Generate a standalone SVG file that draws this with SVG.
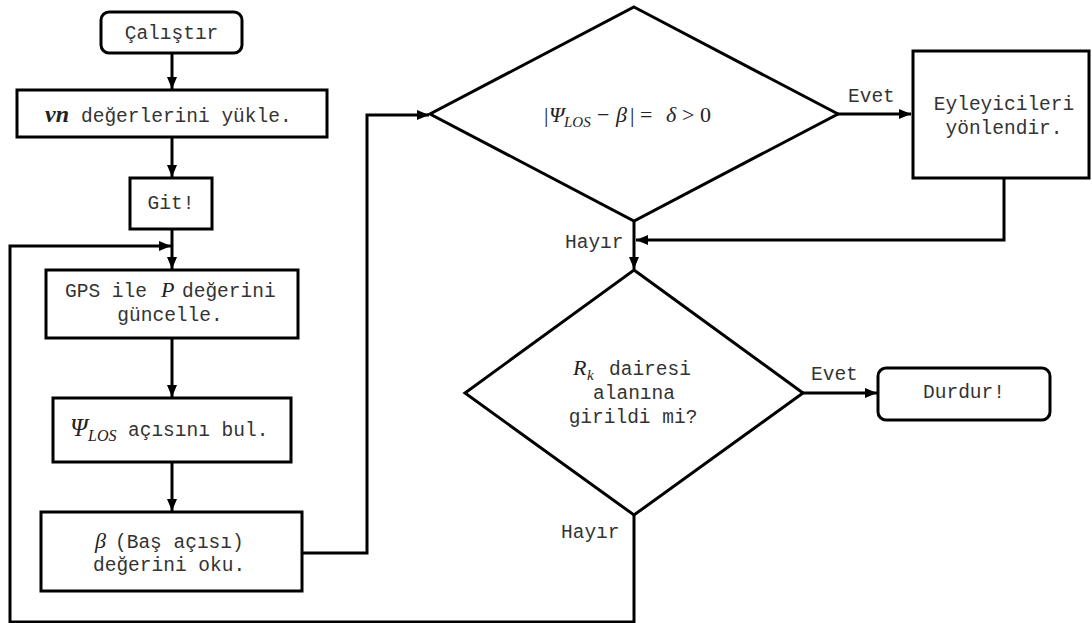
<svg xmlns="http://www.w3.org/2000/svg" width="1092" height="623" viewBox="0 0 1092 623">
<style>
.box{fill:#fff;stroke:#000;stroke-width:3}
.ln{fill:none;stroke:#000;stroke-width:3}
.t{font-family:"Liberation Mono","Courier New",monospace;font-size:19.5px;fill:#333}
.m{font-family:"Liberation Serif","Times New Roman",serif;font-style:italic;fill:#222}
.u{font-family:"Liberation Serif","Times New Roman",serif;fill:#222}
</style>
<defs>
<marker id="ah" markerUnits="userSpaceOnUse" markerWidth="13" markerHeight="11" refX="12" refY="5" orient="auto">
<path d="M0,0 L12,5 L0,10 z" fill="#000"/>
</marker>
</defs>
<rect width="1092" height="623" fill="#fff"/>
<g id="connectors">
<path class="ln" d="M172,53 V89" marker-end="url(#ah)"/>
<path class="ln" d="M172,137 V177" marker-end="url(#ah)"/>
<path class="ln" d="M172,229 V269" marker-end="url(#ah)"/>
<path class="ln" d="M172,338 V397" marker-end="url(#ah)"/>
<path class="ln" d="M172,462 V511" marker-end="url(#ah)"/>
<path class="ln" d="M302,553 H367 V115 H429" marker-end="url(#ah)"/>
<path class="ln" d="M837,114 H911" marker-end="url(#ah)"/>
<path class="ln" d="M1004,178 V240 H636" marker-end="url(#ah)"/>
<path class="ln" d="M634,221 V269" marker-end="url(#ah)"/>
<path class="ln" d="M803,393 H877" marker-end="url(#ah)"/>
<path class="ln" d="M634,515 V622 H10 V246 H171" marker-end="url(#ah)"/>
<text class="t" x="848" y="102">Evet</text>
<text class="t" x="565" y="248">Hayır</text>
<text class="t" x="811" y="380">Evet</text>
<text class="t" x="561" y="538">Hayır</text>
</g>
<g id="start">
<rect class="box" x="101" y="12" width="141" height="41" rx="8"/>
<text class="t" x="171.5" y="39" text-anchor="middle">Çalıştır</text>
</g>
<g id="load">
<rect class="box" x="17" y="90" width="310" height="47"/>
<text x="45" y="122"><tspan class="m" font-size="24" font-weight="bold">vn</tspan><tspan class="t" x="81">değerlerini yükle.</tspan></text>
</g>
<g id="go">
<rect class="box" x="130" y="178" width="82" height="51"/>
<text class="t" x="171" y="209" text-anchor="middle">Git!</text>
</g>
<g id="gps">
<rect class="box" x="46" y="270" width="252" height="68"/>
<text x="65" y="297"><tspan class="t">GPS ile</tspan><tspan class="m" font-size="22" x="161">P</tspan><tspan class="t" x="182">değerini</tspan></text>
<text class="t" x="170" y="321" text-anchor="middle">güncelle.</text>
</g>
<g id="los">
<rect class="box" x="53" y="398" width="238" height="64"/>
<text x="70" y="436"><tspan class="m" font-size="25">Ψ</tspan><tspan class="m" font-size="16" x="88" y="441">LOS</tspan><tspan class="t" x="128" y="436">açısını bul.</tspan></text>
</g>
<g id="beta">
<rect class="box" x="41" y="512" width="261" height="79"/>
<text x="95" y="548"><tspan class="m" font-size="22">β</tspan><tspan class="t" x="115">(Baş açısı)</tspan></text>
<text class="t" x="93" y="571">değerini oku.</text>
</g>
<g id="decision1">
<polygon class="box" points="634,7 838,114 634,221 430,114"/>
<text y="122" font-size="22"><tspan class="u" x="544">|</tspan><tspan class="m" x="549">Ψ</tspan><tspan class="m" font-size="15" x="564" y="127">LOS</tspan><tspan class="u" x="597" y="122">−</tspan><tspan class="m" x="616">β</tspan><tspan class="u" x="630">|</tspan><tspan class="u" x="640">=</tspan><tspan class="m" x="666">δ</tspan><tspan class="u" x="682">&gt;</tspan><tspan class="u" x="700">0</tspan></text>
</g>
<g id="actuators">
<rect class="box" x="913" y="51" width="176" height="127"/>
<text class="t" x="1004" y="110" text-anchor="middle">Eyleyicileri</text>
<text class="t" x="1004" y="134" text-anchor="middle">yönlendir.</text>
</g>
<g id="decision2">
<polygon class="box" points="634,270 803,393 634,515 465,393"/>
<text x="573" y="375"><tspan class="m" font-size="22">R</tspan><tspan class="m" font-size="15" x="587" y="380">k</tspan><tspan class="t" x="609" y="375">dairesi</tspan></text>
<text class="t" x="634" y="399" text-anchor="middle">alanına</text>
<text class="t" x="633" y="423" text-anchor="middle">girildi mi?</text>
</g>
<g id="stop">
<rect class="box" x="878" y="368" width="172" height="52" rx="8"/>
<text class="t" x="964" y="398" text-anchor="middle">Durdur!</text>
</g>
</svg>
